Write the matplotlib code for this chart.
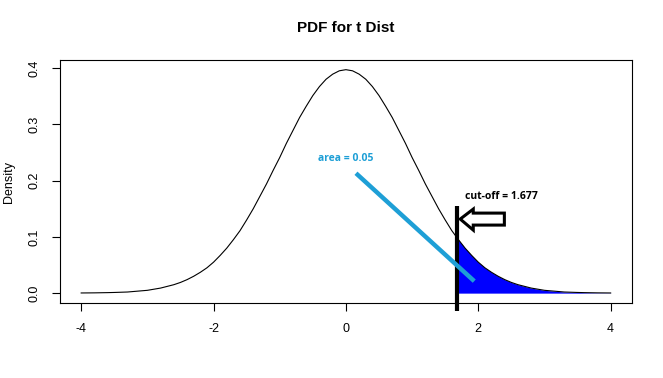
import numpy as np
import matplotlib
matplotlib.use("Agg")
import matplotlib.pyplot as plt
from matplotlib.patches import Polygon, Rectangle

plt.rcParams['font.family'] = ['Liberation Sans', 'DejaVu Sans']

# density of the t distribution (x from -4 to 4, step 0.1)
x = np.round(np.arange(-40, 41) / 10.0, 1)
right_half = [0.397, 0.395, 0.389, 0.380, 0.367, 0.351, 0.332, 0.312, 0.289, 0.266,
              0.241, 0.218, 0.194, 0.172, 0.150, 0.130, 0.111, 0.095, 0.080, 0.067,
              0.055, 0.045, 0.037, 0.030, 0.024, 0.019, 0.015, 0.012, 0.009, 0.007,
              0.005, 0.004, 0.003, 0.002, 0.0016, 0.0012, 0.0009, 0.0007, 0.0005, 0.0004,
              0.0003]
left_half = [0.0003, 0.0004, 0.0005, 0.0007, 0.0009, 0.0012, 0.0016, 0.002, 0.003, 0.004,
             0.005, 0.007, 0.009, 0.012, 0.015, 0.019, 0.024, 0.030, 0.037, 0.045,
             0.055, 0.067, 0.080, 0.095, 0.111, 0.130, 0.150, 0.172, 0.194, 0.218,
             0.241, 0.266, 0.289, 0.312, 0.332, 0.351, 0.367, 0.380, 0.389, 0.395]
dens = np.array(left_half + right_half)
cutoff = 1.677
area = 0.05
xticks = [-4, -2, 0, 2, 4]
yticks = [0.0, 0.1, 0.2, 0.3, 0.4]

fig = plt.figure(figsize=(6.63, 3.78), dpi=100)
ax = fig.add_axes([0.0905, 0.198, 0.8625, 0.643])

ax.plot(x, dens, color='black', lw=0.8)
fill = ax.fill_between(x, 0, dens, color='#0000ff', lw=0)
clip = Rectangle((cutoff, -1), 10, 2, transform=ax.transData)
fill.set_clip_path(clip)

# cut-off line
ax.plot([cutoff, cutoff], [-0.032, 0.155], color='black', lw=3, clip_on=False,
        solid_capstyle='butt', zorder=5)

# hand drawn annotations
ax.plot([0.152, 1.939], [0.213, 0.0213], color='#1e9fd6', lw=3.2,
        solid_capstyle='butt', zorder=6)
ax.text(0.0, 0.240, 'area = %.2f' % area, color='#1e9fd6', fontsize=7.5,
        fontweight='bold', family=['Open Sans', 'DejaVu Sans'],
        ha='center', va='center')
ax.text(2.35, 0.171, 'cut-off = %.3f' % cutoff, color='black', fontsize=7.5,
        fontweight='bold', family=['Open Sans', 'DejaVu Sans'],
        ha='center', va='center')
arrow = Polygon([(1.727, 0.1316), (1.924, 0.1493), (1.924, 0.1422), (2.394, 0.1422),
                 (2.394, 0.1209), (1.924, 0.1209), (1.924, 0.112)],
                closed=True, fill=False, edgecolor='black', lw=2.2, zorder=6)
ax.add_patch(arrow)

ax.set_xlim(-4.32, 4.32)
ax.set_ylim(-0.0178, 0.414)
ax.set_xticks(xticks)
ax.set_xticklabels([str(t) for t in xticks])
ax.set_yticks(yticks)
ax.set_yticklabels(['%.1f' % t for t in yticks], rotation=90, va='center')
ax.tick_params(direction='out', length=6, width=0.8, labelsize=9, pad=8)
for s in ax.spines.values():
    s.set_linewidth(0.8)
ax.set_ylabel('Density', fontsize=9, labelpad=10)
ax.set_title('PDF for t Dist', fontsize=11, fontweight='bold', pad=20)

fig.savefig('out.png', dpi=100)
